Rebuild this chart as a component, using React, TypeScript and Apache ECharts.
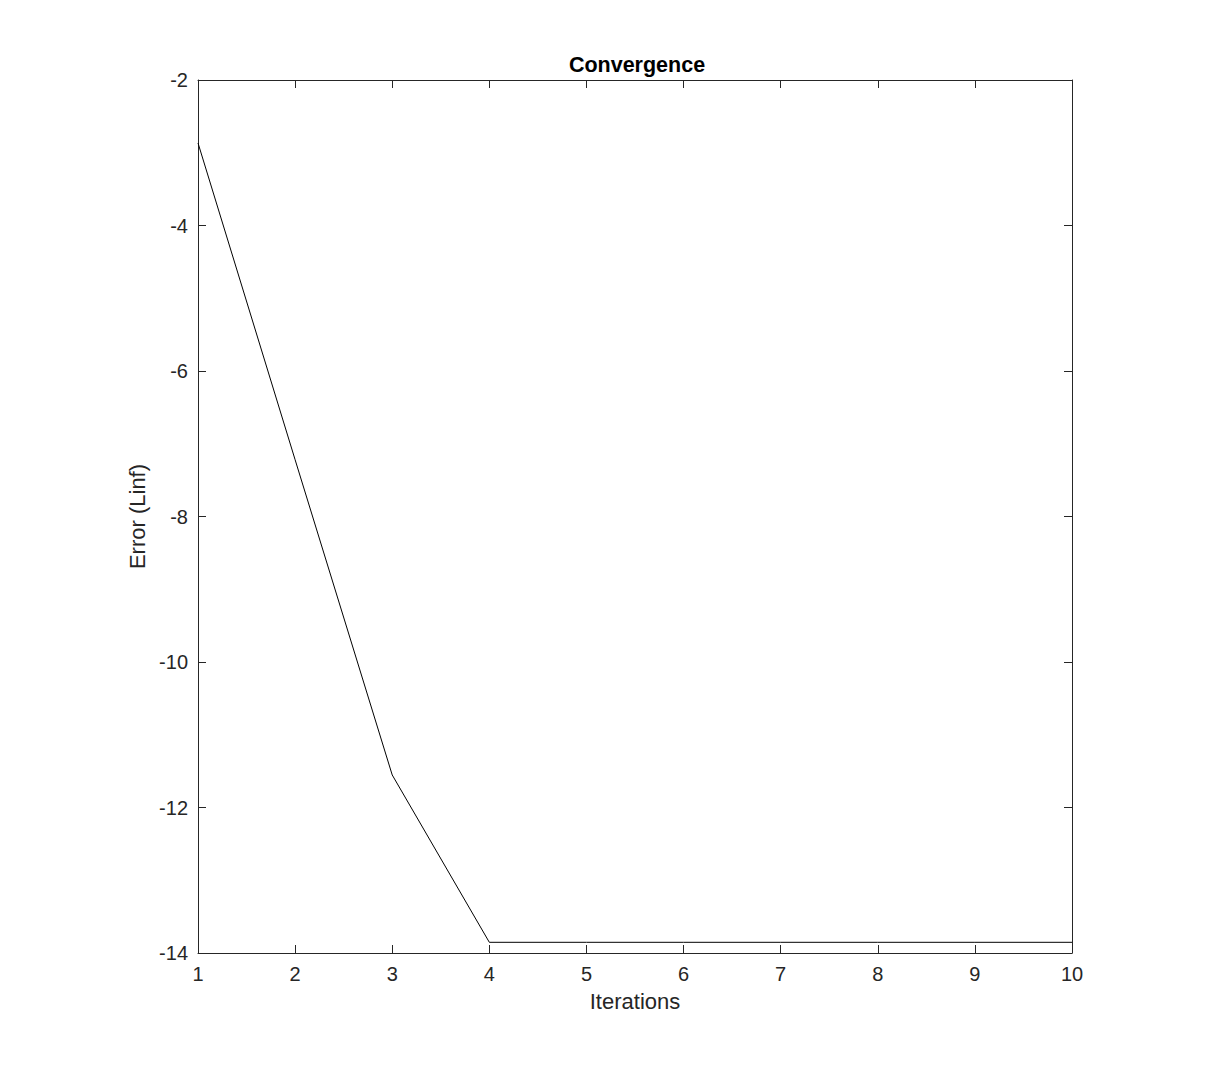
import React, { useEffect, useRef } from "react";
import * as echarts from "echarts";

const iterations = [1, 2, 3, 4, 5, 6, 7, 8, 9, 10];
const errorValues = [-2.866, -7.22, -11.553, -13.853, -13.853, -13.853, -13.853, -13.853, -13.853, -13.853];
const titleText = "Convergence";
const xName = "Iterations";
const yName = "Error (Linf)";

const AXIS_COLOR = "#262626";
const FONT = "'Liberation Sans', Arial, Helvetica, sans-serif";

export default function App() {
  const ref = useRef<HTMLDivElement>(null);
  useEffect(() => {
    document.body.style.margin = "0";
    if (!ref.current) return;
    const chart = echarts.init(ref.current, undefined, { renderer: "svg" });
    const lineStyle = { color: AXIS_COLOR, width: 1 };
    const tick = { show: true, inside: true, length: 8, lineStyle };
    chart.setOption({
      animation: false,
      backgroundColor: "#ffffff",
      title: {
        text: titleText,
        left: 632,
        top: 49,
        textAlign: "center",
        textStyle: { fontFamily: FONT, fontSize: 21.5, fontWeight: "bold", color: "#000" },
      },
      grid: { left: 198, right: 156, top: 80, bottom: 119, containLabel: false },
      xAxis: [
        {
          type: "value",
          min: 1,
          max: 10,
          interval: 1,
          position: "bottom",
          name: xName,
          nameLocation: "middle",
          nameGap: 37,
          nameTextStyle: { fontFamily: FONT, fontSize: 22, color: AXIS_COLOR },
          axisLine: { show: true, lineStyle },
          axisTick: tick,
          axisLabel: { fontFamily: FONT, fontSize: 20, color: AXIS_COLOR, margin: 11 },
          splitLine: { show: false },
        },
        {
          type: "value",
          min: 1,
          max: 10,
          interval: 1,
          position: "top",
          axisLine: { show: true, lineStyle },
          axisTick: tick,
          axisLabel: { show: false },
          splitLine: { show: false },
        },
      ],
      yAxis: [
        {
          type: "value",
          min: -14,
          max: -2,
          interval: 2,
          position: "left",
          name: yName,
          nameLocation: "middle",
          nameGap: 48,
          nameRotate: 90,
          nameTextStyle: { fontFamily: FONT, fontSize: 22, color: AXIS_COLOR },
          axisLine: { show: true, lineStyle },
          axisTick: tick,
          axisLabel: { fontFamily: FONT, fontSize: 20, color: AXIS_COLOR, margin: 10 },
          splitLine: { show: false },
        },
        {
          type: "value",
          min: -14,
          max: -2,
          interval: 2,
          position: "right",
          axisLine: { show: true, lineStyle },
          axisTick: tick,
          axisLabel: { show: false },
          splitLine: { show: false },
        },
      ],
      series: [
        {
          type: "line",
          xAxisIndex: 0,
          yAxisIndex: 0,
          data: iterations.map((x, i) => [x, errorValues[i]]),
          showSymbol: false,
          symbol: "none",
          lineStyle: { color: "#000000", width: 1 },
        },
      ],
    });
    return () => chart.dispose();
  }, []);
  return <div ref={ref} style={{ width: 1228, height: 1072 }} />;
}
